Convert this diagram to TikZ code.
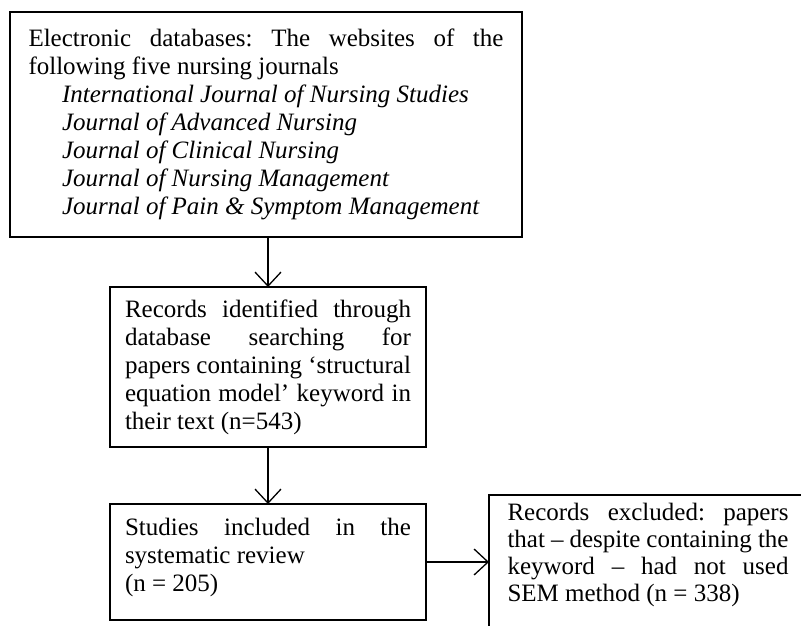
\documentclass[tikz,border=0pt]{standalone}
\usepackage{fontspec}
\setmainfont{Liberation Serif}
\usetikzlibrary{arrows.meta}

\newcommand{\fontecaixa}[1]{\fontsize{25}{#1}\selectfont\frenchspacing
  \hyphenpenalty=10000 \exhyphenpenalty=10000 \tolerance=9999 \emergencystretch=30pt\relax}

\tikzset{
  caixa/.style={draw, line width=1.6pt, anchor=north west, inner xsep=18.5pt, inner ysep=0pt,
    outer sep=0pt, align=justify, font=\fontecaixa{28}},
  seta/.style={line width=1.3pt, -{Straight Barb[length=14pt,width=26pt,line width=1.3pt]}}
}

\begin{document}
\begin{tikzpicture}[x=1pt, y=-1pt]
        % Fundo
        \useasboundingbox (0,0) rectangle (801,625);
        \fill[white] (0,0) rectangle (801,625);
        \clip (0,0) rectangle (801,625);

        % Caixas
        \node[caixa, text width=475pt, text height=34pt, text depth=191pt] (bases) at (10,12)
          {Electronic databases: The websites of the\linebreak following five nursing journals\\
           \hspace*{33.5pt}\textit{International Journal of Nursing Studies}\\
           \hspace*{33.5pt}\textit{Journal of Advanced Nursing}\\
           \hspace*{33.5pt}\textit{Journal of Clinical Nursing}\\
           \hspace*{33.5pt}\textit{Journal of Nursing Management}\\
           \hspace*{33.5pt}\textit{Journal of Pain \& Symptom Management}};

        \node[caixa, inner xsep=15pt, text width=286pt, text height=30pt, text depth=130pt] (registros) at (110,287)
          {Records identified through\linebreak database searching for\linebreak
           papers containing ‘structural\linebreak equation model’ keyword in\linebreak
           their text (n=543)};

        \node[caixa, inner xsep=15pt, text width=286pt, text height=31pt, text depth=85pt] (incluidos) at (110,504)
          {Studies included in the\linebreak systematic review\\ (n = 205)};

        \node[caixa, text width=281pt, text height=25pt, text depth=150pt,
              font=\fontecaixa{27}] (excluidos) at (489,495)
          {Records excluded: papers\linebreak that -- despite containing the\linebreak
           keyword -- had not used\linebreak SEM method (n = 338)};

        % Setas
        \draw[seta] (bases.south -| registros.north) -- (registros.north);
        \draw[seta] (registros.south) -- (incluidos.north);
        \draw[seta] (incluidos.east) -- (incluidos.east -| excluidos.west);
\end{tikzpicture}
\end{document}
